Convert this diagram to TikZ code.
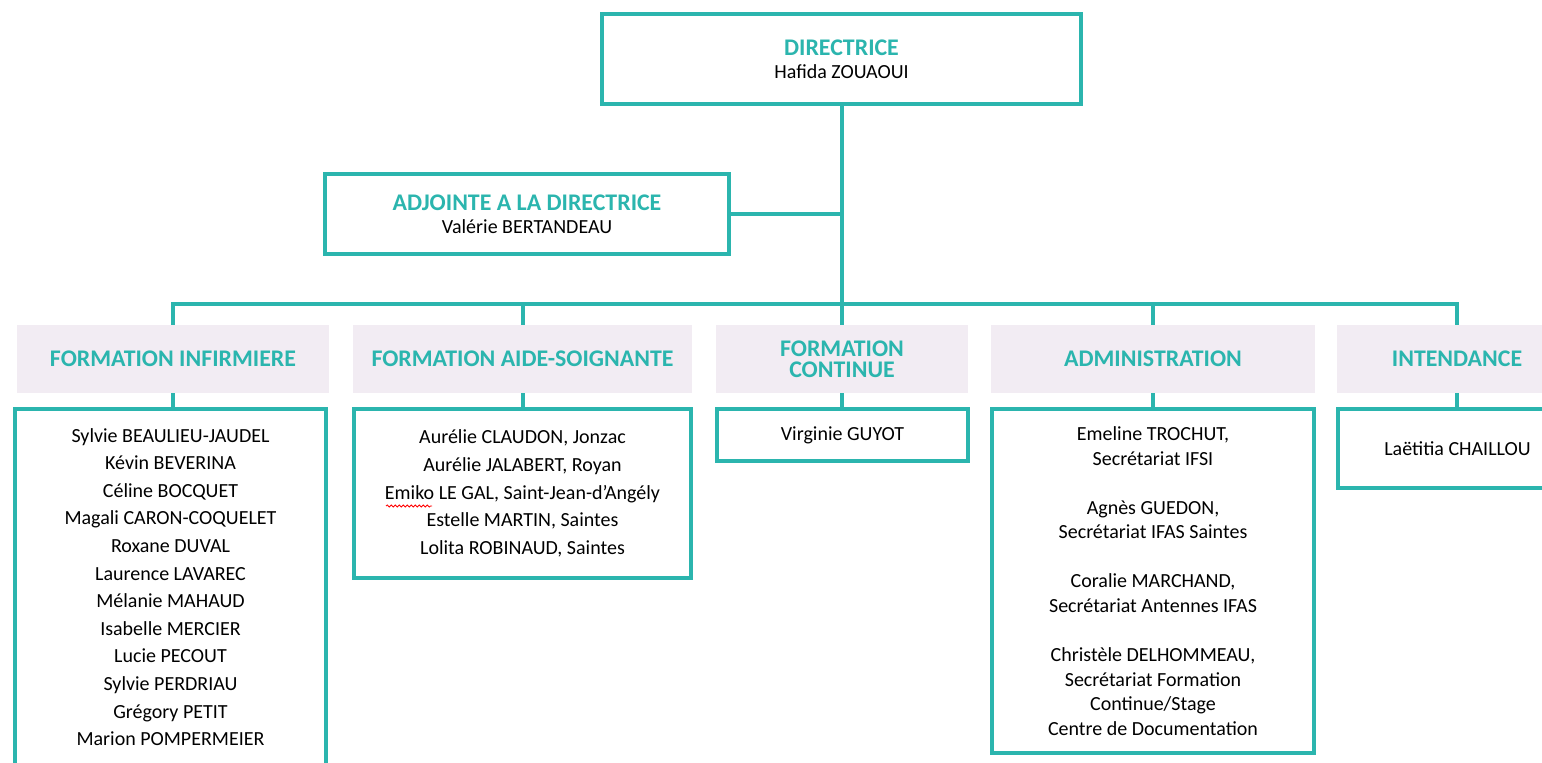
\documentclass[tikz,border=0pt]{standalone}
\usepackage{fontspec}
\setmainfont{Carlito}
\usetikzlibrary{decorations.pathmorphing}
\definecolor{ifsiteal}{RGB}{43,181,174}
\definecolor{ifsilav}{RGB}{242,236,243}
\newcommand{\namefont}{\fontsize{15}{20.7}\selectfont}
\newcommand{\headfont}{\fontsize{17.9}{15.75}\selectfont\bfseries}
\begin{document}
\begin{tikzpicture}[x=0.75pt,y=-0.75pt,
  box/.style={draw=ifsiteal,line width=3pt,fill=white,inner sep=0pt,align=center,font=\namefont},
  head/.style={fill=ifsilav,text=ifsiteal,inner sep=0pt,align=center,font=\headfont},
  link/.style={draw=ifsiteal,line width=3pt}]
\useasboundingbox (0,0) rectangle (1542,763);
\clip (0,0) rectangle (1542,763);
% direction
\node[box,minimum width=359.25pt,minimum height=67.5pt,font=\fontsize{15}{17.5}\selectfont] (dir) at (841.5,59)
  {{\headfont\color{ifsiteal}DIRECTRICE}\\Hafida ZOUAOUI};
\node[box,minimum width=303pt,minimum height=60pt,font=\fontsize{15}{17.5}\selectfont] (adj) at (527,214)
  {{\headfont\color{ifsiteal}ADJOINTE A LA DIRECTRICE}\\Valérie BERTANDEAU};
% services
\node[head,minimum width=234pt,minimum height=51pt] (hFI) at (173,359) {FORMATION INFIRMIERE};
\node[head,minimum width=254.25pt,minimum height=51pt] (hFAS) at (522.5,359) {FORMATION AIDE-SOIGNANTE};
\node[head,minimum width=189pt,minimum height=51pt] (hFC) at (842,359) {FORMATION\\CONTINUE};
\node[head,minimum width=243pt,minimum height=51pt] (hADM) at (1153,359) {ADMINISTRATION};
\node[head,minimum width=180pt,minimum height=51pt] (hINT) at (1457,359) {INTENDANCE};
% equipes
\node[box,minimum width=233.25pt,minimum height=267pt] (bFI) at (170.5,587)
  {Sylvie BEAULIEU-JAUDEL\\Kévin BEVERINA\\Céline BOCQUET\\Magali CARON-COQUELET\\Roxane DUVAL\\Laurence LAVAREC\\Mélanie MAHAUD\\Isabelle MERCIER\\Lucie PECOUT\\Sylvie PERDRIAU\\Grégory PETIT\\Marion POMPERMEIER};
\node[box,minimum width=252.75pt,minimum height=126.75pt] (bFAS) at (522.5,493.5)
  {Aurélie CLAUDON, Jonzac\\Aurélie JALABERT, Royan\\Emiko LE GAL, Saint-Jean-d’Angély\\Estelle MARTIN, Saintes\\Lolita ROBINAUD, Saintes};
\node[box,minimum width=188.25pt,minimum height=39pt] (bFC) at (842.5,435) {Virginie GUYOT};
\node[box,minimum width=241.5pt,minimum height=258pt,font=\fontsize{15}{18.4}\selectfont] (bADM) at (1153,581)
  {Emeline TROCHUT,\\Secrétariat IFSI\\[18.4pt]Agnès GUEDON,\\Secrétariat IFAS Saintes\\[18.4pt]Coralie MARCHAND,\\Secrétariat Antennes IFAS\\[18.4pt]Christèle DELHOMMEAU,\\Secrétariat Formation\\Continue/Stage\\Centre de Documentation};
\node[box,minimum width=179.25pt,minimum height=59.25pt] (bINT) at (1457.5,448.5) {Laëtitia CHAILLOU};
% liens
\coordinate (bus) at (dir.south |- 0,304);
\draw[link] (dir.south) -- (bus);
\draw[link] (adj.east) -- (adj.east -| bus);
\draw[link] (hFI.north) |- (bus) -| (hINT.north);
\foreach \n in {hFAS,hFC,hADM} \draw[link] (\n.north) -- (\n.north |- bus);
\foreach \n/\m in {hFI/bFI,hFAS/bFAS,hFC/bFC,hADM/bADM,hINT/bINT}
  \draw[link] (\n.south) -- (\n.south |- \m.north);
\draw[red,line width=0.6pt,decorate,decoration={snake,amplitude=0.8pt,segment length=3pt}] (386,506) -- (432,506);
\end{tikzpicture}
\end{document}
